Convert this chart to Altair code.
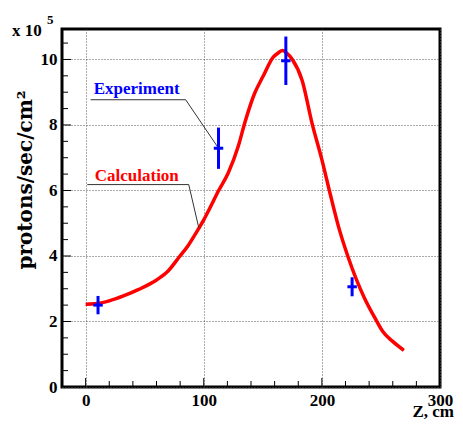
import altair as alt
import pandas as pd

# Calculation curve (Z in cm, flux in 1e5 protons/sec/cm^2)
calc_z = [0, 10, 20, 32, 45, 59.7, 70, 79.2, 87, 93.1, 100, 105, 112.5, 120.8, 129.2, 134.7, 143, 150,
          159, 163, 166.7, 170, 175, 183.3, 191.7, 200, 207, 213.9, 222.2, 236.1, 245.8, 251.4, 259.7, 269.4]
calc_v = [2.53, 2.55, 2.63, 2.78, 2.98, 3.26, 3.55, 3.97, 4.33, 4.68, 5.1, 5.45, 5.99, 6.54, 7.35, 8.06, 8.96, 9.47,
          10.08, 10.2, 10.27, 10.2, 10.0, 9.36, 8.05, 6.94, 5.9, 4.92, 3.97, 2.71, 2.05, 1.70, 1.40, 1.12]

# Experiment points
exp_z = [10.5, 112.5, 169.5, 225.6]
exp_v = [2.5, 7.29, 9.96, 3.06]
exp_err = [0.28, 0.63, 0.74, 0.29]
exp_zerr = [4, 4, 4, 4]

# annotation leader lines
lead_group = ["exp", "exp", "exp", "calc", "calc", "calc"]
lead_z = [4.2, 84.7, 112.5, 1.4, 87.3, 95.8]
lead_v = [8.77, 8.77, 7.29, 6.18, 6.18, 4.86]
lead_order = [0, 1, 2, 0, 1, 2]

label_text = ["Experiment", "Calculation"]
label_z = [43.2, 43.3]
label_v = [8.94, 6.3]
label_color = ["#0000ff", "#ff0000"]

x_ticks = [0, 100, 200, 300]
y_ticks = [0, 2, 4, 6, 8, 10]
x_minor = [20, 40, 60, 80, 120, 140, 160, 180, 220, 240, 260, 280]
x_major = [0, 100, 200]
y_minor = [0.5, 1, 1.5, 2.5, 3, 3.5, 4.5, 5, 5.5, 6.5, 7, 7.5, 8.5, 9, 9.5, 10.5]
y_major = [2, 4, 6, 8, 10]

FONT = "Liberation Serif"
W, H = 378, 358

xs = alt.Scale(domain=[-20, 300], nice=False, zero=False)
ys = alt.Scale(domain=[0, 10.93], nice=False, zero=False)

calc_df = pd.DataFrame({"z": calc_z, "v": calc_v})
exp_df = pd.DataFrame({"z": exp_z, "v": exp_v, "e": exp_err, "ze": exp_zerr})
exp_df["lo"] = exp_df["v"] - exp_df["e"]
exp_df["hi"] = exp_df["v"] + exp_df["e"]
exp_df["zlo"] = exp_df["z"] - exp_df["ze"]
exp_df["zhi"] = exp_df["z"] + exp_df["ze"]
lead_df = pd.DataFrame({"g": lead_group, "z": lead_z, "v": lead_v, "o": lead_order})
lab_df = pd.DataFrame({"t": label_text, "z": label_z, "v": label_v, "c": label_color})

xaxis = alt.Axis(values=x_ticks, title=None, labelFont=FONT, labelFontWeight="bold",
                 labelFontSize=17, labelColor="black", ticks=False, tickSize=0, domain=False,
                 labelPadding=5, grid=True, gridDash=[1, 2], gridColor="#555555",
                 gridOpacity=1, labelFlush=False)
yaxis = alt.Axis(values=y_ticks, title=None, labelFont=FONT, labelFontWeight="bold",
                 labelFontSize=17, labelColor="black", ticks=False, tickSize=0, domain=False,
                 labelPadding=5, grid=True, gridDash=[1, 2], gridColor="#555555",
                 gridOpacity=1, labelFlush=False)

curve = alt.Chart(calc_df).mark_line(color="#ff0000", strokeWidth=3.5, interpolate="monotone").encode(
    x=alt.X("z:Q", scale=xs, axis=xaxis),
    y=alt.Y("v:Q", scale=ys, axis=yaxis),
)

ev = alt.Chart(exp_df).mark_rule(color="#0000ff", strokeWidth=3).encode(
    x=alt.X("z:Q", scale=xs, axis=xaxis),
    y=alt.Y("lo:Q", scale=ys, axis=yaxis),
    y2="hi:Q",
)
eh = alt.Chart(exp_df).mark_rule(color="#0000ff", strokeWidth=3).encode(
    x=alt.X("zlo:Q", scale=xs, axis=xaxis),
    x2="zhi:Q",
    y=alt.Y("v:Q", scale=ys, axis=yaxis),
)

leads = alt.Chart(lead_df).mark_line(color="#333333", strokeWidth=1).encode(
    x=alt.X("z:Q", scale=xs, axis=xaxis),
    y=alt.Y("v:Q", scale=ys, axis=yaxis),
    detail="g:N",
    order="o:Q",
)

labels = alt.Chart(lab_df).mark_text(font=FONT, fontWeight="bold", fontSize=17,
                                     align="center", baseline="alphabetic").encode(
    x=alt.X("z:Q", scale=xs, axis=xaxis),
    y=alt.Y("v:Q", scale=ys, axis=yaxis),
    text="t:N",
    color=alt.Color("c:N", scale=None),
)

ymin_df = pd.DataFrame({"v": y_minor})
ymaj_df = pd.DataFrame({"v": y_major})
xmin_df = pd.DataFrame({"z": x_minor})
xmaj_df = pd.DataFrame({"z": x_major})

yt_min = alt.Chart(ymin_df).mark_rule(color="black", strokeWidth=1).encode(
    y=alt.Y("v:Q", scale=ys, axis=yaxis), x=alt.value(0), x2=alt.value(6))
yt_maj = alt.Chart(ymaj_df).mark_rule(color="black", strokeWidth=1).encode(
    y=alt.Y("v:Q", scale=ys, axis=yaxis), x=alt.value(0), x2=alt.value(9))
xt_min = alt.Chart(xmin_df).mark_rule(color="black", strokeWidth=1).encode(
    x=alt.X("z:Q", scale=xs, axis=xaxis), y=alt.value(H), y2=alt.value(H - 6))
xt_maj = alt.Chart(xmaj_df).mark_rule(color="black", strokeWidth=1).encode(
    x=alt.X("z:Q", scale=xs, axis=xaxis), y=alt.value(H), y2=alt.value(H - 9))

one = pd.DataFrame({"a": [0]})
ytitle = alt.Chart(one).mark_text(text="protons/sec/cm²", font="DejaVu Serif", fontWeight="bold",
                                  fontSize=20, angle=270, align="center", baseline="alphabetic").encode(
    x=alt.value(-30), y=alt.value(151))
xtitle = alt.Chart(one).mark_text(text="Z, cm", font=FONT, fontWeight="bold", fontSize=17,
                                  align="right", baseline="alphabetic").encode(
    x=alt.value(W + 14), y=alt.value(H + 30))
mult = alt.Chart(one).mark_text(text="x 10", font=FONT, fontWeight="bold", fontSize=17,
                                align="left", baseline="alphabetic").encode(
    x=alt.value(-50), y=alt.value(7))
expo = alt.Chart(one).mark_text(text="5", font=FONT, fontWeight="bold", fontSize=13,
                                align="left", baseline="alphabetic").encode(
    x=alt.value(-15), y=alt.value(-5))

chart = alt.layer(
    curve, leads, ev, eh, labels, yt_min, yt_maj, xt_min, xt_maj, ytitle, xtitle, mult, expo
).properties(
    width=W, height=H,
    padding={"left": 54, "top": 21, "right": 15, "bottom": 35},
    autosize=alt.AutoSizeParams(type="none"),
    background="white",
).configure_view(stroke="black", strokeWidth=3)

chart.save("out.html", embed_options={"renderer": "svg", "actions": False})
